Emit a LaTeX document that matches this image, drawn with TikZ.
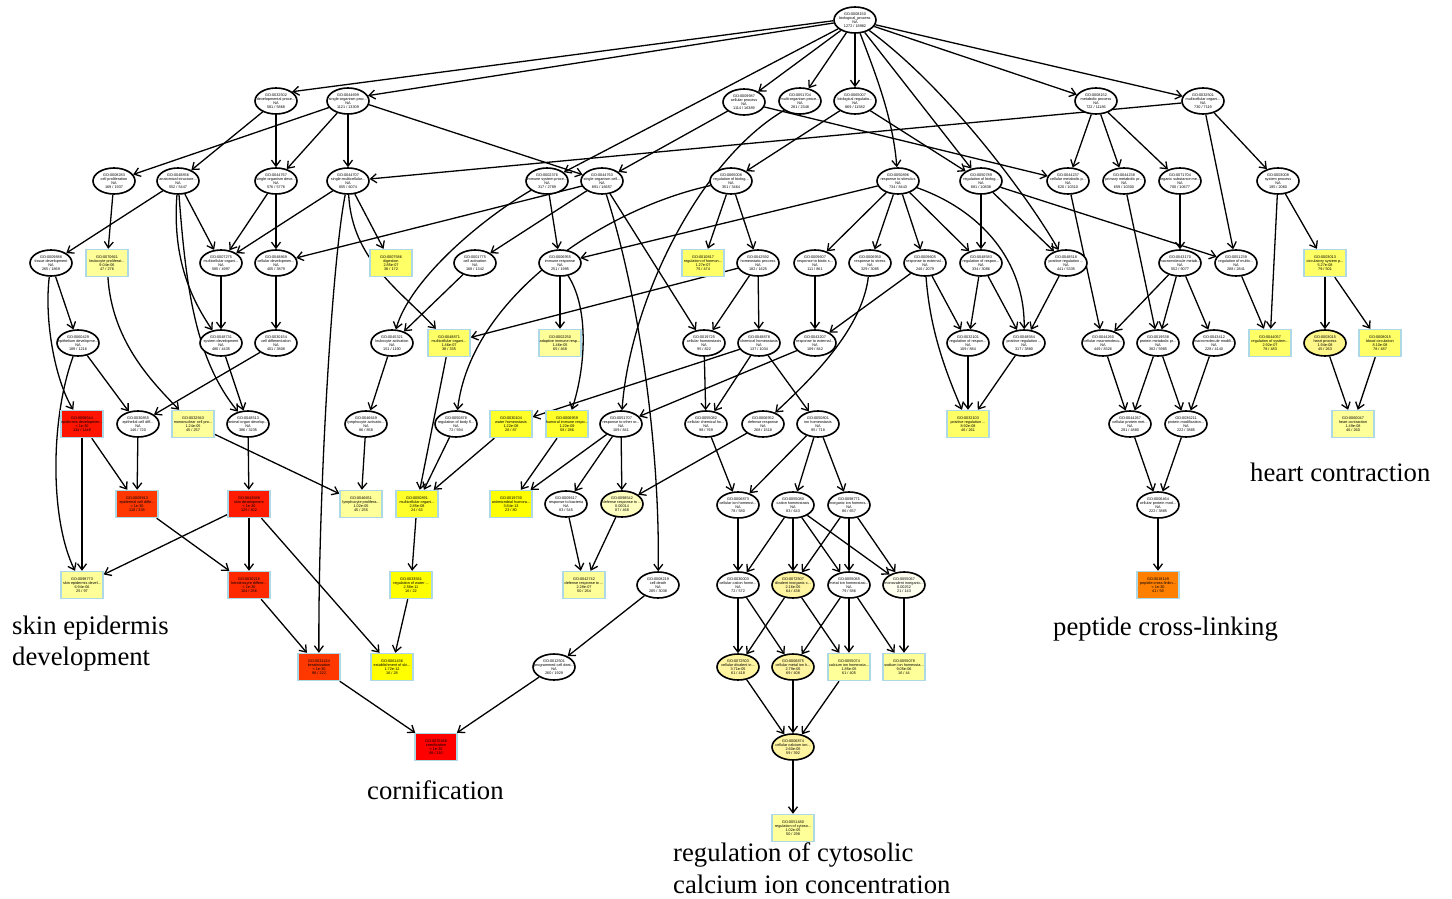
\documentclass[tikz,border=0pt]{standalone}
\usepackage{fontspec}
\setmainfont{Liberation Serif}
\newfontfamily\nodefont{Liberation Sans}
\usetikzlibrary{shapes.geometric,arrows.meta}
\pgfdeclarelayer{back}
\pgfdeclarelayer{bg}
\pgfsetlayers{back,bg,main}
\definecolor{bluebd}{HTML}{ADD8E6}
\definecolor{cR0}{HTML}{FF0000}
\definecolor{cR1}{HTML}{FF1400}
\definecolor{cR2}{HTML}{FF1C00}
\definecolor{cR3}{HTML}{FF2A00}
\definecolor{cR4}{HTML}{FF3800}
\definecolor{cOr}{HTML}{FF7F00}
\definecolor{cY0}{HTML}{FFFF00}
\definecolor{cY1}{HTML}{FFFF2A}
\definecolor{cY2}{HTML}{FFFF66}
\definecolor{cY3}{HTML}{FFFF99}
\definecolor{cE0}{HTML}{FFF78A}
\definecolor{cE1}{HTML}{FFF5A0}
\definecolor{cE2}{HTML}{FFFFC0}
\definecolor{cE3}{HTML}{FFFFF0}
\tikzset{
 goell/.style={ellipse,draw=black,line width=1.6pt,fill=white,minimum width=42pt,minimum height=26pt,inner sep=0pt},
 gobox/.style={rectangle,draw=bluebd,line width=1.4pt,minimum width=42pt,minimum height=27pt,inner sep=0pt},
 nt/.style={font=\nodefont\fontsize{3.8}{3.9}\selectfont,align=center,inner sep=0pt,text=black},
 arr/.style={line width=1.3pt,-{Straight Barb[length=6pt,width=9pt]}},
 biglab/.style={font=\fontsize{26.7}{31}\selectfont,inner sep=0pt,anchor=base west}
}
\newcommand{\gn}[7]{\node[#1] (g#2) at (#6,#7) {};\node[nt] (t#2) at (g#2.center) {GO:#2\\#3\\#4\\#5};}
\begin{document}
\begin{tikzpicture}[x=1pt,y=-1pt]
\begin{pgfonlayer}{back}
\fill[white] (0,0) rectangle (1452,899);
\end{pgfonlayer}
\useasboundingbox (0,0) rectangle (1452,899);
% row 0
\gn{goell}{0008150}{biological\_process}{NA}{1272 / 18982}{855}{20}
% row 1
\gn{goell}{0032502}{developmental proce...}{NA}{581 / 5868}{276}{101}
\gn{goell}{0044699}{single-organism proc...}{NA}{1121 / 13309}{348}{101}
\gn{goell}{0009987}{cellular process}{NA}{1114 / 16389}{744}{102}
\gn{goell}{0051704}{multi-organism proce...}{NA}{281 / 2348}{800}{101}
\gn{goell}{0065007}{biological regulatio...}{NA}{869 / 11582}{855}{101}
\gn{goell}{0008152}{metabolic process}{NA}{722 / 11186}{1096}{101}
\gn{goell}{0032501}{multicellular organi...}{NA}{730 / 7119}{1203}{101}
% row 2
\gn{goell}{0008283}{cell proliferation}{NA}{169 / 1937}{114}{181}
\gn{goell}{0048856}{anatomical structure...}{NA}{552 / 5447}{178}{181}
\gn{goell}{0044767}{single-organism deve...}{NA}{576 / 5776}{276}{181}
\gn{goell}{0044707}{single-multicellular...}{NA}{655 / 6074}{348}{181}
\gn{goell}{0002376}{immune system proce...}{NA}{317 / 2789}{547}{181}
\gn{goell}{0044763}{single-organism cell...}{NA}{891 / 16657}{602}{181}
\gn{goell}{0065008}{regulation of biolog...}{NA}{351 / 3464}{731}{181}
\gn{goell}{0050896}{response to stimulus}{NA}{734 / 8443}{898}{181}
\gn{goell}{0050789}{regulation of biolog...}{NA}{881 / 10838}{981}{181}
\gn{goell}{0044237}{cellular metabolic p...}{NA}{620 / 10310}{1068}{181}
\gn{goell}{0044238}{primary metabolic pr...}{NA}{659 / 10300}{1124}{181}
\gn{goell}{0071704}{organic substance me...}{NA}{700 / 10677}{1180}{181}
\gn{goell}{0003008}{system process}{NA}{195 / 2060}{1278}{181}
% row 3
\gn{goell}{0009888}{tissue development}{NA}{265 / 1869}{51}{263}
\gn{gobox,fill=cY3}{0070661}{leukocyte proliferat...}{9.04e-06}{47 / 276}{107}{263}
\gn{goell}{0007275}{multicellular organi...}{NA}{585 / 4997}{221}{263}
\gn{goell}{0048869}{cellular developmen...}{NA}{405 / 3879}{276}{263}
\gn{gobox,fill=cY2}{0007586}{digestion}{2.85e-07}{38 / 172}{391}{263}
\gn{goell}{0001775}{cell activation}{NA}{168 / 1342}{475}{263}
\gn{goell}{0006955}{immune response}{NA}{251 / 1995}{560}{263}
\gn{gobox,fill=cY2}{0010817}{regulation of hormon...}{1.27e-07}{75 / 474}{703}{263}
\gn{goell}{0042592}{homeostatic process}{NA}{182 / 1625}{758}{263}
\gn{goell}{0009607}{response to biotic s...}{NA}{111 / 861}{815}{263}
\gn{goell}{0006950}{response to stress}{NA}{329 / 3085}{870}{263}
\gn{goell}{0009605}{response to external...}{NA}{246 / 2079}{925}{263}
\gn{goell}{0048583}{regulation of respon...}{NA}{334 / 3086}{981}{263}
\gn{goell}{0048518}{positive regulation ...}{NA}{441 / 5335}{1066}{263}
\gn{goell}{0043170}{macromolecule metab...}{NA}{552 / 9077}{1180}{263}
\gn{goell}{0051239}{regulation of multic...}{NA}{288 / 2841}{1236}{263}
\gn{gobox,fill=cY2}{0003013}{circulatory system p...}{5.27e-08}{79 / 501}{1325}{263}
% row 4
\gn{goell}{0060429}{epithelium developme...}{NA}{189 / 1216}{78}{343}
\gn{goell}{0048731}{system development}{NA}{480 / 4435}{221}{343}
\gn{goell}{0030154}{cell differentiation}{NA}{401 / 3808}{276}{343}
\gn{goell}{0045321}{leukocyte activation}{NA}{151 / 1190}{392}{343}
\gn{gobox,fill=cY2}{0048871}{multicellular organi...}{1.46e-07}{38 / 335}{449}{343}
\gn{gobox,fill=cY3}{0002250}{adaptive immune resp...}{1.46e-05}{65 / 468}{560}{343}
\gn{goell}{0019725}{cellular homeostasis}{NA}{95 / 822}{704}{343}
\gn{goell}{0048878}{chemical homeostasis}{NA}{137 / 1034}{759}{343}
\gn{goell}{0043207}{response to external...}{NA}{109 / 842}{815}{343}
\gn{goell}{0032101}{regulation of respon...}{NA}{109 / 884}{968}{343}
\gn{goell}{0048584}{positive regulation ...}{NA}{317 / 3880}{1024}{343}
\gn{goell}{0044260}{cellular macromolecu...}{NA}{449 / 8326}{1103}{343}
\gn{goell}{0019538}{protein metabolic pr...}{NA}{382 / 5985}{1158}{343}
\gn{goell}{0043412}{macromolecule modifi...}{NA}{228 / 4140}{1214}{343}
\gn{gobox,fill=cY2}{0044057}{regulation of system...}{2.92e-07}{78 / 483}{1270}{343}
\gn{goell,fill=cE0}{0003015}{heart process}{1.94e-08}{45 / 263}{1325}{343}
\gn{gobox,fill=cY2}{0008015}{blood circulation}{8.10e-08}{78 / 487}{1380}{343}
% row 5
\gn{gobox,fill=cR1}{0008544}{epidermis developmen...}{< 1e-30}{134 / 1445}{82}{424}
\gn{goell}{0030855}{epithelial cell diff...}{NA}{146 / 720}{138}{424}
\gn{gobox,fill=cY3}{0032943}{mononuclear cell pro...}{1.24e-05}{45 / 257}{193}{424}
\gn{goell}{0048513}{animal organ develop...}{NA}{386 / 3235}{248}{424}
\gn{goell}{0046649}{lymphocyte activatio...}{NA}{86 / 858}{366}{424}
\gn{goell}{0050878}{regulation of body fl...}{NA}{72 / 594}{456}{424}
\gn{gobox,fill=cY1}{0030104}{water homeostasis}{1.22e-08}{26 / 87}{511}{424}
\gn{gobox,fill=cY1}{0006959}{humoral immune respo...}{1.22e-09}{58 / 286}{567}{424}
\gn{goell}{0051707}{response to other or...}{NA}{109 / 841}{621}{424}
\gn{goell}{0055082}{cellular chemical ho...}{NA}{98 / 769}{706}{424}
\gn{goell}{0006952}{defense response}{NA}{268 / 1518}{763}{424}
\gn{goell}{0050801}{ion homeostasis}{NA}{95 / 718}{818}{424}
\gn{gobox,fill=cY2}{0032103}{positive regulation ...}{8.92e-08}{46 / 261}{968}{424}
\gn{goell}{0044267}{cellular protein met...}{NA}{291 / 4880}{1130}{424}
\gn{goell}{0036211}{protein modification...}{NA}{222 / 3885}{1186}{424}
\gn{gobox,fill=cY3}{0060047}{heart contraction}{1.49e-08}{46 / 260}{1353}{424}
% row 6
\gn{gobox,fill=cR4}{0009913}{epidermal cell diffe...}{< 1e-30}{110 / 338}{137}{504}
\gn{gobox,fill=cR2}{0043588}{skin development}{< 1e-30}{125 / 402}{249}{504}
\gn{gobox,fill=cY3}{0046651}{lymphocyte prolifera...}{1.02e-05}{45 / 255}{361}{504}
\gn{gobox,fill=cY1}{0050891}{multicellular organi...}{2.85e-08}{24 / 63}{417}{504}
\gn{gobox,fill=cY0}{0019730}{antimicrobial humora...}{3.84e-13}{23 / 80}{511}{504}
\gn{goell}{0009617}{response to bacteria}{NA}{83 / 545}{566}{504}
\gn{goell,fill=cE2}{0098542}{defense response to ...}{0.00014}{87 / 468}{622}{504}
\gn{goell}{0006873}{cellular ion homeost...}{NA}{78 / 580}{738}{505}
\gn{goell}{0055080}{cation homeostasis}{NA}{83 / 643}{793}{505}
\gn{goell}{0098771}{inorganic ion homeos...}{NA}{86 / 657}{849}{505}
\gn{goell}{0006464}{cellular protein mod...}{NA}{222 / 3885}{1158}{505}
% row 7
\gn{gobox,fill=cY3}{0098773}{skin epidermis devel...}{6.94e-06}{25 / 97}{82}{585}
\gn{gobox,fill=cR3}{0030216}{keratinocyte differe...}{< 1e-30}{104 / 256}{249}{585}
\gn{gobox,fill=cY0}{0033561}{regulation of water ...}{2.58e-11}{16 / 22}{411}{585}
\gn{gobox,fill=cY3}{0042742}{defense response to ...}{2.28e-07}{50 / 264}{584}{585}
\gn{goell}{0008219}{cell death}{NA}{285 / 3038}{658}{585}
\gn{goell}{0030003}{cellular cation home...}{NA}{72 / 572}{738}{585}
\gn{goell,fill=cE1}{0072507}{divalent inorganic c...}{2.16e-05}{64 / 438}{793}{585}
\gn{goell}{0055065}{metal ion homeostasi...}{NA}{79 / 586}{849}{585}
\gn{goell,fill=cE3}{0055067}{monovalent inorganic...}{0.00252}{21 / 143}{904}{585}
\gn{gobox,fill=cOr}{0018149}{peptide cross-linkin...}{< 1e-30}{41 / 59}{1158}{585}
% row 8
\gn{gobox,fill=cR4}{0031424}{keratinization}{< 1e-30}{88 / 222}{319}{667}
\gn{gobox,fill=cY0}{0061436}{establishment of ski...}{1.72e-12}{16 / 28}{392}{667}
\gn{goell}{0012501}{programmed cell deat...}{NA}{260 / 1929}{554}{667}
\gn{goell,fill=cE1}{0072503}{cellular divalent in...}{3.71e-05}{61 / 418}{738}{667}
\gn{goell,fill=cE1}{0006875}{cellular metal ion h...}{2.79e-05}{69 / 408}{793}{667}
\gn{gobox,fill=cY3}{0055074}{calcium ion homeosta...}{1.85e-05}{61 / 405}{849}{667}
\gn{gobox,fill=cY3}{0055078}{sodium ion homeosta...}{9.05e-06}{16 / 44}{904}{667}
% row 9-10
\gn{gobox,fill=cR0}{0070268}{cornification}{< 1e-30}{88 / 110}{436}{747}
\gn{goell,fill=cE1}{0006874}{cellular calcium ion...}{2.60e-05}{59 / 392}{793}{747}
\gn{gobox,fill=cY3}{0051480}{regulation of cytoso...}{1.02e-05}{50 / 298}{793}{828}
% big labels
\node[biglab] (lheart) at (1250,481) {heart contraction};
\node[biglab] (lskin1) at (12,634) {skin epidermis};
\node[biglab] (lskin2) at (12,665) {development};
\node[biglab] (lpep) at (1053,635) {peptide cross-linking};
\node[biglab] (lcorn) at (367,799) {cornification};
\node[biglab] (lreg1) at (673,861) {regulation of cytosolic};
\node[biglab] (lreg2) at (673,893) {calcium ion concentration};
\begin{pgfonlayer}{bg}
% from root
\draw[arr] (g0008150.182) -- (g0032502.30);
\draw[arr] (g0008150.188) -- (g0044699.15);
\draw[arr] (g0008150) -- (g0009987);
\draw[arr] (g0008150) -- (g0051704);
\draw[arr] (g0008150) -- (g0065007);
\draw[arr] (g0008150) -- (g0008152);
\draw[arr] (g0008150) -- (g0032501);
\draw[arr] (g0008150) -- (g0002376);
\draw[arr] (g0008150) .. controls (878,80) and (893,120) .. (g0050896);
\draw[arr] (g0008150) -- (g0050789);
\draw[arr] (g0008150) .. controls (950,90) and (1030,200) .. (g0048518);
% row 1
\draw[arr] (g0032502) -- (g0048856);
\draw[arr] (g0032502) -- (g0044767);
\draw[arr] (g0044699) -- (g0044767);
\draw[arr] (g0044699) -- (g0044707);
\draw[arr] (g0044699) -- (g0008283);
\draw[arr] (g0044699.-10) -- (g0044763);
\draw[arr] (g0009987) -- (g0044763);
\draw[arr] (g0009987) -- (g0044237);
\draw[arr] (g0051704) .. controls (700,160) and (630,300) .. (g0051707);
\draw[arr] (g0065007) -- (g0065008);
\draw[arr] (g0065007) -- (g0050789);
\draw[arr] (g0008152) -- (g0044237);
\draw[arr] (g0008152) -- (g0044238);
\draw[arr] (g0008152) -- (g0071704);
\draw[arr] (g0032501) -- (g0044707);
\draw[arr] (g0032501) -- (g0051239);
\draw[arr] (g0032501) -- (g0003008);
% row 2
\draw[arr] (g0008283) -- (g0070661);
\draw[arr] (g0048856) -- (g0009888);
\draw[arr] (g0048856) -- (g0007275);
\draw[arr] (g0048856) .. controls (172,260) and (192,300) .. (g0048731);
\draw[arr] (g0048856) .. controls (186,290) and (196,360) .. (g0048513);
\draw[arr] (g0044767) -- (g0007275);
\draw[arr] (g0044767) -- (g0048869);
\draw[arr] (g0044707) -- (g0007275);
\draw[arr] (g0044707) -- (g0007586);
\draw[arr] (g0044707) .. controls (352,260) and (400,290) .. (g0048871);
\draw[arr] (g0044707) .. controls (332,260) and (318,500) .. (g0031424);
\draw[arr] (g0002376) -- (g0006955);
\draw[arr] (g0002376) .. controls (480,220) and (410,280) .. (g0045321);
\draw[arr] (g0044763) -- (g0048869);
\draw[arr] (g0044763) -- (g0001775);
\draw[arr] (g0044763) -- (g0019725);
\draw[arr] (g0044763) .. controls (640,300) and (660,450) .. (g0008219);
\draw[arr] (g0065008) -- (g0010817);
\draw[arr] (g0065008) -- (g0042592);
\draw[arr] (g0065008) .. controls (600,210) and (470,300) .. (g0050878);
\draw[arr] (g0050896) -- (g0006955);
\draw[arr] (g0050896) -- (g0009607);
\draw[arr] (g0050896) -- (g0006950);
\draw[arr] (g0050896) -- (g0009605);
\draw[arr] (g0050896) -- (g0048583);
\draw[arr] (g0050896) .. controls (980,210) and (1025,260) .. (g0048584);
\draw[arr] (g0050789) -- (g0048583);
\draw[arr] (g0050789) -- (g0048518);
\draw[arr] (g0050789) -- (g0051239);
\draw[arr] (g0044237) -- (g0044260);
\draw[arr] (g0044238) -- (g0019538);
\draw[arr] (g0071704) -- (g0043170);
\draw[arr] (g0003008) -- (g0044057);
\draw[arr] (g0003008) -- (g0003013);
% row 3
\draw[arr] (g0009888) -- (g0060429);
\draw[arr] (g0009888) .. controls (44,320) and (55,380) .. (g0008544);
\draw[arr] (g0070661) .. controls (112,340) and (150,380) .. (g0032943);
\draw[arr] (g0007275) -- (g0048731);
\draw[arr] (g0048869) -- (g0030154);
\draw[arr] (g0001775) -- (g0045321);
\draw[arr] (g0006955) -- (g0002250);
\draw[arr] (g0006955) .. controls (590,310) and (585,370) .. (g0006959);
\draw[arr] (g0042592) -- (g0019725);
\draw[arr] (g0042592) -- (g0048878);
\draw[arr] (g0042592) -- (g0048871);
\draw[arr] (g0009607) -- (g0043207);
\draw[arr] (g0006950) .. controls (862,330) and (810,380) .. (g0006952);
\draw[arr] (g0009605) -- (g0043207);
\draw[arr] (g0009605) -- (g0032101);
\draw[arr] (g0009605) .. controls (930,330) and (945,370) .. (g0032103);
\draw[arr] (g0048583) -- (g0032101);
\draw[arr] (g0048583) -- (g0048584);
\draw[arr] (g0048518) -- (g0048584);
\draw[arr] (g0043170) -- (g0044260);
\draw[arr] (g0043170) -- (g0019538);
\draw[arr] (g0043170) -- (g0043412);
\draw[arr] (g0051239) -- (g0044057);
\draw[arr] (g0003013) -- (g0003015);
\draw[arr] (g0003013) -- (g0008015);
% row 4
\draw[arr] (g0060429) -- (g0030855);
\draw[arr] (g0060429) .. controls (50,420) and (50,520) .. (g0098773);
\draw[arr] (g0048731) -- (g0048513);
\draw[arr] (g0030154) -- (g0030855);
\draw[arr] (g0045321) -- (g0046649);
\draw[arr] (g0048871) -- (g0050891);
\draw[arr] (g0019725) -- (g0055082);
\draw[arr] (g0048878) -- (g0055082);
\draw[arr] (g0048878) -- (g0050801);
\draw[arr] (g0048878) -- (g0030104);
\draw[arr] (g0043207) -- (g0051707);
\draw[arr] (g0032101) -- (g0032103);
\draw[arr] (g0048584) -- (g0032103);
\draw[arr] (g0044260) -- (g0044267);
\draw[arr] (g0019538) -- (g0044267);
\draw[arr] (g0019538) -- (g0036211);
\draw[arr] (g0043412) -- (g0036211);
\draw[arr] (g0003015) -- (g0060047);
\draw[arr] (g0008015) -- (g0060047);
% row 5
\draw[arr] (g0008544) -- (g0009913);
\draw[arr] (g0008544) -- (g0098773);
\draw[arr] (g0030855) -- (g0009913);
\draw[arr] (g0032943) -- (g0046651);
\draw[arr] (g0048513) -- (g0043588);
\draw[arr] (g0046649) -- (g0046651);
\draw[arr] (g0050878) -- (g0050891);
\draw[arr] (g0030104) -- (g0050891);
\draw[arr] (g0006959) -- (g0019730);
\draw[arr] (g0051707) -- (g0019730);
\draw[arr] (g0051707) -- (g0009617);
\draw[arr] (g0051707) -- (g0098542);
\draw[arr] (g0055082) -- (g0006873);
\draw[arr] (g0006952) -- (g0098542);
\draw[arr] (g0050801) -- (g0006873);
\draw[arr] (g0050801) -- (g0055080);
\draw[arr] (g0050801) -- (g0098771);
\draw[arr] (g0044267) -- (g0006464);
\draw[arr] (g0036211) -- (g0006464);
% row 6
\draw[arr] (g0009913) -- (g0030216);
\draw[arr] (g0043588) -- (g0030216);
\draw[arr] (g0043588) -- (g0098773);
\draw[arr] (g0043588) -- (g0061436);
\draw[arr] (g0050891) -- (g0033561);
\draw[arr] (g0009617) -- (g0042742);
\draw[arr] (g0098542) -- (g0042742);
\draw[arr] (g0006873) -- (g0030003);
\draw[arr] (g0055080) -- (g0030003);
\draw[arr] (g0055080) -- (g0072507);
\draw[arr] (g0055080) -- (g0055065);
\draw[arr] (g0055080) -- (g0055067);
\draw[arr] (g0098771) -- (g0072507);
\draw[arr] (g0098771) -- (g0055065);
\draw[arr] (g0098771) -- (g0055067);
\draw[arr] (g0006464) -- (g0018149);
% row 7
\draw[arr] (g0030216) -- (g0031424);
\draw[arr] (g0033561) -- (g0061436);
\draw[arr] (g0008219) -- (g0012501);
\draw[arr] (g0030003) -- (g0072503);
\draw[arr] (g0030003) -- (g0006875);
\draw[arr] (g0072507) -- (g0072503);
\draw[arr] (g0072507) -- (g0055074);
\draw[arr] (g0055065) -- (g0006875);
\draw[arr] (g0055065) -- (g0055074);
\draw[arr] (g0055065) -- (g0055078);
\draw[arr] (g0055067) -- (g0055078);
% row 8-9
\draw[arr] (g0031424) -- (g0070268);
\draw[arr] (g0012501) -- (g0070268);
\draw[arr] (g0072503) -- (g0006874);
\draw[arr] (g0006875) -- (g0006874);
\draw[arr] (g0055074) -- (g0006874);
\draw[arr] (g0006874) -- (g0051480);
\end{pgfonlayer}
\end{tikzpicture}
\end{document}
